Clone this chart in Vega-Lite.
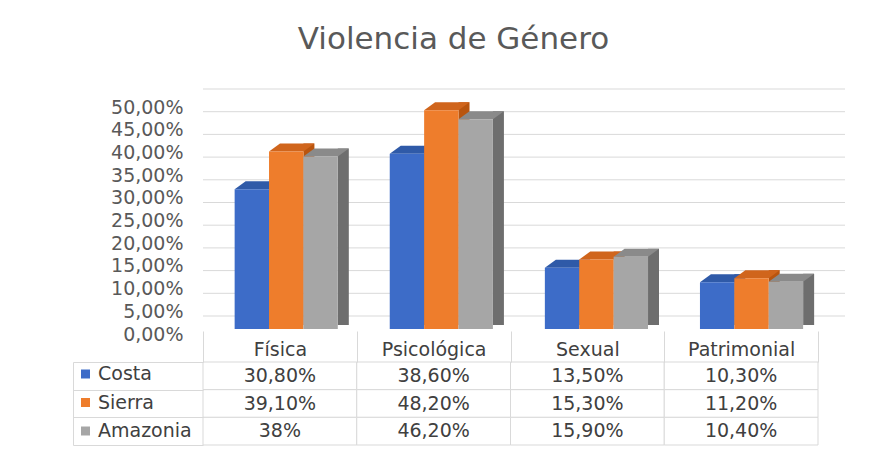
{
  "$schema": "https://vega.github.io/schema/vega-lite/v6.json",
  "autosize": {"type": "pad"},
  "padding": {"left": 72, "top": 23, "right": 39, "bottom": 4},
  "background": "white",
  "bounds": "flush",
  "spacing": 33,
  "resolve": {"scale": {"color": "independent"}, "legend": {"color": "independent"}},
  "title": {
    "text": "Violencia de Género",
    "font": "DejaVu Sans",
    "fontSize": 31,
    "fontWeight": "normal",
    "color": "#595959",
    "anchor": "middle",
    "frame": "group",
    "offset": 33,
    "dx": -57
  },
  "datasets": {
    "violencia": [
      {"cat": "Física", "serie": "Costa", "valor": 0.308, "label": "30,80%"},
      {"cat": "Física", "serie": "Sierra", "valor": 0.391, "label": "39,10%"},
      {"cat": "Física", "serie": "Amazonia", "valor": 0.38, "label": "38%"},
      {"cat": "Psicológica", "serie": "Costa", "valor": 0.386, "label": "38,60%"},
      {"cat": "Psicológica", "serie": "Sierra", "valor": 0.482, "label": "48,20%"},
      {"cat": "Psicológica", "serie": "Amazonia", "valor": 0.462, "label": "46,20%"},
      {"cat": "Sexual", "serie": "Costa", "valor": 0.135, "label": "13,50%"},
      {"cat": "Sexual", "serie": "Sierra", "valor": 0.153, "label": "15,30%"},
      {"cat": "Sexual", "serie": "Amazonia", "valor": 0.159, "label": "15,90%"},
      {"cat": "Patrimonial", "serie": "Costa", "valor": 0.103, "label": "10,30%"},
      {"cat": "Patrimonial", "serie": "Sierra", "valor": 0.112, "label": "11,20%"},
      {"cat": "Patrimonial", "serie": "Amazonia", "valor": 0.104, "label": "10,40%"}
    ],
    "grid": [
      {"g": 0}, {"g": 0.05}, {"g": 0.1}, {"g": 0.15}, {"g": 0.2}, {"g": 0.25},
      {"g": 0.3}, {"g": 0.35}, {"g": 0.4}, {"g": 0.45}, {"g": 0.5}
    ]
  },
  "vconcat": [
    {
      "width": 615,
      "height": 227,
      "layer": [
        {
          "data": {"name": "grid"},
          "mark": {"type": "rule", "color": "#d9d9d9", "strokeWidth": 1, "xOffset": 27, "x2Offset": 30, "yOffset": -13},
          "encoding": {
            "y": {
              "field": "g", "type": "quantitative",
              "scale": {"domain": [0, 0.5], "nice": false},
              "axis": {
                "title": null,
                "values": [0, 0.05, 0.1, 0.15, 0.2, 0.25, 0.3, 0.35, 0.4, 0.45, 0.5],
                "labelExpr": "replace(format(datum.value, '.2%'), '.', ',')",
                "domain": false, "ticks": false, "grid": false,
                "labelPadding": 20, "labelOffset": 5,
                "labelFont": "DejaVu Sans", "labelFontSize": 19, "labelColor": "#595959",
                "labelFlush": false, "labelOverlap": false, "labelBound": false
              }
            }
          }
        },
        {
          "data": {"name": "violencia"},
          "transform": [{"filter": "datum.serie === 'Costa'"}],
          "mark": {"type": "rule", "strokeWidth": 11, "strokeCap": "butt", "color": "#2a4f93", "xOffset": -11.7, "yOffset": -8, "y2Offset": -4},
          "encoding": {
            "x": {"field": "cat", "type": "nominal", "sort": ["Física", "Psicológica", "Sexual", "Patrimonial"], "scale": {"paddingInner": 0.335, "paddingOuter": 0.15, "align": 0.68}, "axis": null},
            "y": {
              "field": "valor", "type": "quantitative",
              "axis": {
                "title": null,
                "values": [0, 0.05, 0.1, 0.15, 0.2, 0.25, 0.3, 0.35, 0.4, 0.45, 0.5],
                "labelExpr": "replace(format(datum.value, '.2%'), '.', ',')",
                "domain": false, "ticks": false, "grid": false,
                "labelPadding": 20, "labelOffset": 5,
                "labelFont": "DejaVu Sans", "labelFontSize": 19, "labelColor": "#595959",
                "labelFlush": false, "labelOverlap": false, "labelBound": false
              }
            },
            "y2": {"datum": 0}
          }
        },
        {
          "data": {"name": "violencia"},
          "transform": [{"filter": "datum.serie === 'Sierra'"}],
          "mark": {"type": "rule", "strokeWidth": 11, "strokeCap": "butt", "color": "#b9550f", "xOffset": 22.7, "yOffset": -8, "y2Offset": -4},
          "encoding": {
            "x": {"field": "cat", "type": "nominal", "sort": ["Física", "Psicológica", "Sexual", "Patrimonial"], "axis": null},
            "y": {
              "field": "valor", "type": "quantitative",
              "axis": {
                "title": null,
                "values": [0, 0.05, 0.1, 0.15, 0.2, 0.25, 0.3, 0.35, 0.4, 0.45, 0.5],
                "labelExpr": "replace(format(datum.value, '.2%'), '.', ',')",
                "domain": false, "ticks": false, "grid": false,
                "labelPadding": 20, "labelOffset": 5,
                "labelFont": "DejaVu Sans", "labelFontSize": 19, "labelColor": "#595959",
                "labelFlush": false, "labelOverlap": false, "labelBound": false
              }
            },
            "y2": {"datum": 0}
          }
        },
        {
          "data": {"name": "violencia"},
          "transform": [{"filter": "datum.serie === 'Amazonia'"}],
          "mark": {"type": "rule", "strokeWidth": 11, "strokeCap": "butt", "color": "#6e6e6e", "xOffset": 57.1, "yOffset": -8, "y2Offset": -4},
          "encoding": {
            "x": {"field": "cat", "type": "nominal", "sort": ["Física", "Psicológica", "Sexual", "Patrimonial"], "axis": null},
            "y": {
              "field": "valor", "type": "quantitative",
              "axis": {
                "title": null,
                "values": [0, 0.05, 0.1, 0.15, 0.2, 0.25, 0.3, 0.35, 0.4, 0.45, 0.5],
                "labelExpr": "replace(format(datum.value, '.2%'), '.', ',')",
                "domain": false, "ticks": false, "grid": false,
                "labelPadding": 20, "labelOffset": 5,
                "labelFont": "DejaVu Sans", "labelFontSize": 19, "labelColor": "#595959",
                "labelFlush": false, "labelOverlap": false, "labelBound": false
              }
            },
            "y2": {"datum": 0}
          }
        },
        {
          "data": {"name": "violencia"},
          "mark": {"type": "point", "shape": "M-17.2,0L17.2,0L28.2,-8L-6.2,-8Z", "size": 4, "filled": true, "opacity": 1, "strokeWidth": 0},
          "encoding": {
            "x": {"field": "cat", "type": "nominal", "sort": ["Física", "Psicológica", "Sexual", "Patrimonial"], "axis": null},
            "xOffset": {"field": "serie", "type": "nominal", "sort": ["Costa", "Sierra", "Amazonia"], "scale": {"paddingInner": 0, "paddingOuter": 0}},
            "y": {
              "field": "valor", "type": "quantitative",
              "axis": {
                "title": null,
                "values": [0, 0.05, 0.1, 0.15, 0.2, 0.25, 0.3, 0.35, 0.4, 0.45, 0.5],
                "labelExpr": "replace(format(datum.value, '.2%'), '.', ',')",
                "domain": false, "ticks": false, "grid": false,
                "labelPadding": 20, "labelOffset": 5,
                "labelFont": "DejaVu Sans", "labelFontSize": 19, "labelColor": "#595959",
                "labelFlush": false, "labelOverlap": false, "labelBound": false
              }
            },
            "fill": {"field": "serie", "type": "nominal", "scale": {"domain": ["Costa", "Sierra", "Amazonia"], "range": ["#2f5aa8", "#d0651c", "#8a8a8a"]}, "legend": null}
          }
        },
        {
          "data": {"name": "violencia"},
          "mark": {"type": "bar"},
          "encoding": {
            "x": {"field": "cat", "type": "nominal", "sort": ["Física", "Psicológica", "Sexual", "Patrimonial"], "axis": null},
            "xOffset": {"field": "serie", "type": "nominal", "sort": ["Costa", "Sierra", "Amazonia"]},
            "y": {
              "field": "valor", "type": "quantitative",
              "axis": {
                "title": null,
                "values": [0, 0.05, 0.1, 0.15, 0.2, 0.25, 0.3, 0.35, 0.4, 0.45, 0.5],
                "labelExpr": "replace(format(datum.value, '.2%'), '.', ',')",
                "domain": false, "ticks": false, "grid": false,
                "labelPadding": 20, "labelOffset": 5,
                "labelFont": "DejaVu Sans", "labelFontSize": 19, "labelColor": "#595959",
                "labelFlush": false, "labelOverlap": false, "labelBound": false
              }
            },
            "color": {
              "field": "serie", "type": "nominal",
              "scale": {"domain": ["Costa", "Sierra", "Amazonia"], "range": ["#3d6cc8", "#ee7d2c", "#a6a6a6"]},
              "legend": {
                "orient": "none", "legendX": -127, "legendY": 262.5,
                "title": null, "symbolType": "square", "symbolSize": 81, "symbolStrokeWidth": 0,
                "labelFont": "DejaVu Sans", "labelFontSize": 19, "labelColor": "#404040",
                "rowPadding": 8.5, "labelOffset": 3, "padding": 0
              }
            }
          }
        }
      ]
    },
    {
      "width": 615,
      "height": 83,
      "data": {"name": "violencia"},
      "encoding": {
        "x": {
          "field": "cat", "type": "nominal", "sort": ["Física", "Psicológica", "Sexual", "Patrimonial"],
          "scale": {"paddingInner": 0, "paddingOuter": 0},
          "axis": {
            "orient": "top", "title": null, "domain": false, "ticks": true, "tickBand": "extent",
            "tickSize": 31, "tickColor": "#d9d9d9", "labelAngle": 0,
            "labelFont": "DejaVu Sans", "labelFontSize": 19, "labelColor": "#404040", "labelPadding": -28
          }
        },
        "y": {
          "field": "serie", "type": "nominal", "sort": ["Costa", "Sierra", "Amazonia"],
          "scale": {"paddingInner": 0, "paddingOuter": 0},
          "axis": {
            "title": null, "labels": false, "offset": 130, "domain": true, "domainColor": "#d9d9d9",
            "ticks": true, "tickBand": "extent", "tickSize": -130, "tickColor": "#d9d9d9"
          }
        }
      },
      "layer": [
        {"mark": {"type": "rect", "fill": "white", "stroke": "#d9d9d9", "strokeWidth": 1}},
        {"mark": {"type": "text", "font": "DejaVu Sans", "fontSize": 19, "color": "#404040"}, "encoding": {"text": {"field": "label"}}}
      ]
    }
  ],
  "config": {
    "view": {"stroke": null}
  }
}
